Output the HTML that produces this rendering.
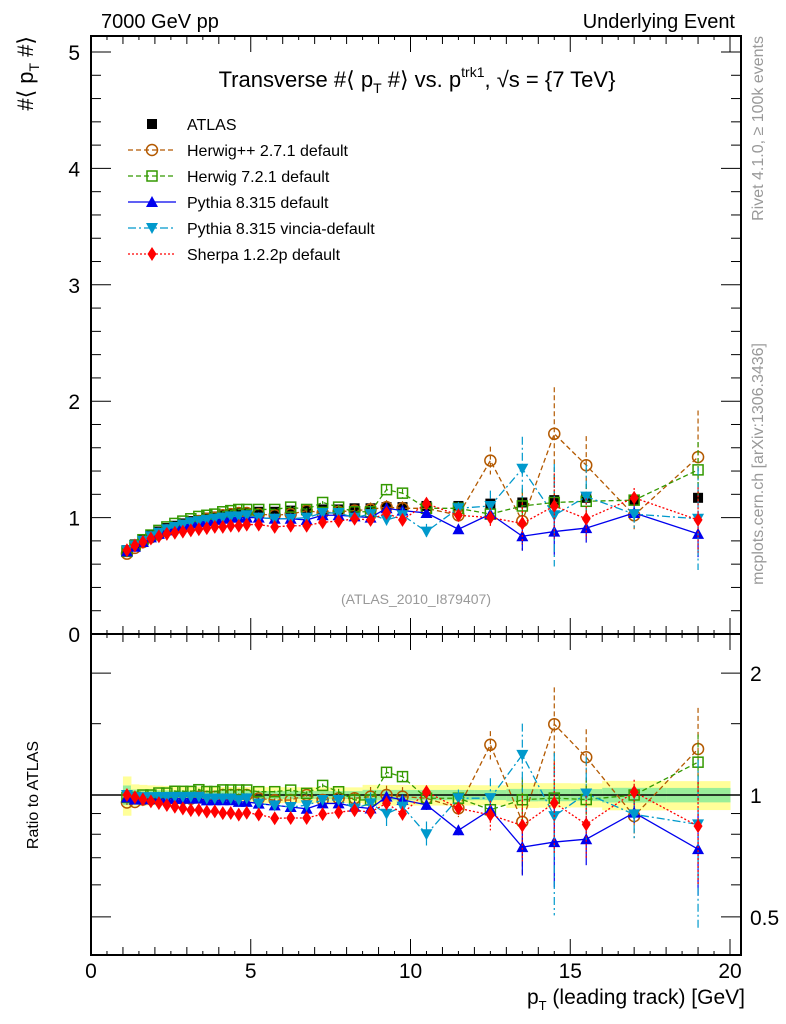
<!DOCTYPE html>
<html><head><meta charset="utf-8"><style>
body{margin:0;background:#fff}
svg{display:block;font-family:"Liberation Sans",sans-serif}
</style></head><body>
<svg id="c" width="786" height="1024" viewBox="0 0 786 1024" xmlns="http://www.w3.org/2000/svg">
<g id="bands"></g>
<g id="marks"></g>
<g id="axes"></g>
<text x="101" y="28" font-size="20">7000 GeV pp</text>
<text x="735" y="28" font-size="20" text-anchor="end">Underlying Event</text>
<text x="417" y="87" font-size="22" text-anchor="middle">Transverse #⟨ p<tspan font-size="14" dy="6">T</tspan><tspan dy="-6"> #⟩ vs. p</tspan><tspan font-size="14" dy="-10">trk1</tspan><tspan dy="10">, √s = {7 TeV}</tspan></text>
<text transform="translate(33,36) rotate(-90)" font-size="22" text-anchor="end">#⟨ p<tspan font-size="14" dy="6">T</tspan><tspan dy="-6">  #⟩</tspan></text>
<text transform="translate(38,795) rotate(-90)" font-size="16" text-anchor="middle">Ratio to ATLAS</text>
<text x="745" y="1004" font-size="21" text-anchor="end">p<tspan font-size="13" dy="6">T</tspan><tspan dy="-6"> (leading track) [GeV]</tspan></text>
<text x="416" y="604" font-size="14" fill="#999" text-anchor="middle">(ATLAS_2010_I879407)</text>
<text transform="translate(763,36) rotate(-90)" font-size="16" fill="#999" text-anchor="end">Rivet 4.1.0, ≥ 100k events</text>
<text transform="translate(763,343) rotate(-90)" font-size="16" fill="#999" text-anchor="end">mcplots.cern.ch [arXiv:1306.3436]</text>
<g id="legend"></g>
</svg>
<script>
const xs=[1.125,1.375,1.625,1.875,2.125,2.375,2.625,2.875,3.125,3.375,3.625,3.875,4.125,4.375,4.625,4.875,5.25,5.75,6.25,6.75,7.25,7.75,8.25,8.75,9.25,9.75,10.5,11.5,12.5,13.5,14.5,15.5,17,19];
const atlas=[0.72,0.77,0.81,0.85,0.88,0.91,0.93,0.95,0.97,0.98,1.0,1.01,1.02,1.03,1.04,1.04,1.05,1.05,1.06,1.06,1.07,1.07,1.08,1.08,1.09,1.09,1.1,1.1,1.12,1.13,1.15,1.17,1.15,1.17];
const atlasErr=[0.05,0.03,0.03,0.03,0.03,0.03,0.03,0.03,0.03,0.03,0.03,0.03,0.03,0.03,0.03,0.03,0.03,0.03,0.03,0.03,0.03,0.03,0.03,0.04,0.04,0.04,0.04,0.04,0.04,0.05,0.05,0.05,0.06,0.06];
const herwigpp=[0.69,0.74,0.79,0.83,0.86,0.89,0.91,0.93,0.95,0.97,0.99,1.0,1.02,1.03,1.04,1.04,1.03,1.02,1.03,1.06,1.04,1.05,1.06,1.07,1.09,1.08,1.08,1.02,1.49,0.97,1.72,1.45,1.02,1.52];
const herwig7=[0.71,0.76,0.81,0.85,0.89,0.92,0.95,0.97,0.99,1.01,1.02,1.03,1.05,1.06,1.07,1.07,1.07,1.07,1.09,1.07,1.13,1.09,1.05,1.05,1.24,1.21,1.08,1.08,1.03,1.1,1.13,1.14,1.15,1.41];
const pythia=[0.71,0.75,0.79,0.83,0.86,0.89,0.91,0.93,0.95,0.96,0.97,0.98,0.99,1.0,1.0,1.0,1.0,0.99,0.99,0.98,1.02,1.02,1.01,1.0,1.08,1.06,1.04,0.9,1.03,0.84,0.88,0.91,1.04,0.86];
const vincia=[0.72,0.76,0.8,0.84,0.87,0.9,0.92,0.94,0.96,0.97,0.98,0.99,1.0,1.01,1.01,1.02,1.0,0.99,0.99,1.0,1.04,1.04,1.0,1.03,0.98,1.02,0.88,1.08,1.1,1.42,1.02,1.18,1.03,0.99];
const sherpa=[0.72,0.76,0.79,0.82,0.84,0.86,0.87,0.88,0.89,0.9,0.91,0.92,0.92,0.93,0.93,0.94,0.94,0.92,0.93,0.93,0.96,0.97,0.99,0.98,1.04,0.98,1.12,1.02,1.0,0.95,1.1,0.99,1.17,0.98];
const mcErr=[0.01,0.01,0.01,0.01,0.01,0.01,0.01,0.01,0.01,0.01,0.01,0.01,0.01,0.01,0.01,0.01,0.01,0.01,0.02,0.02,0.02,0.03,0.03,0.06,0.06,0.06,0.06,0.05,0.12,0.25,0.4,0.25,0.12,0.4];
const seriesNames=["Herwig++ 2.7.1 default","Herwig 7.2.1 default","Pythia 8.315 default","Pythia 8.315 vincia-default","Sherpa 1.2.2p default"];
const yTicks=[0,1,2,3,4,5];
const rTicks=[0.5,1,2];
const xTicks=[0,5,10,15,20];

const NS="http://www.w3.org/2000/svg";
const L=91,R=741,T=36,MB=634,RB=955;
const X=v=>L+v*31.95;
const Y=v=>MB-v*116.4;
const RY=r=>795-405*Math.log10(r);
function el(tag,a,p){const e=document.createElementNS(NS,tag);for(const k in a)e.setAttribute(k,a[k]);p.appendChild(e);return e;}
const bands=document.getElementById('bands'),marks=document.getElementById('marks'),axes=document.getElementById('axes'),leg=document.getElementById('legend');

for(let i=0;i<xs.length;i++){
  const w=i<16?0.125:(i<26?0.25:(i<32?0.5:1));
  const rel=atlasErr[i]/atlas[i];
  const y=el('rect',{x:X(xs[i]-w),y:RY(1+rel*1.6),width:X(xs[i]+w)-X(xs[i]-w)+0.5,height:RY(1-rel*1.6)-RY(1+rel*1.6),fill:'#ffff99'},bands);
  
  
  const g=el('rect',{x:X(xs[i]-w),y:RY(1+rel*0.8),width:X(xs[i]+w)-X(xs[i]-w)+0.5,height:RY(1-rel*0.8)-RY(1+rel*0.8),fill:'#99ee99'},bands);
  
  
}
el('line',{x1:L,x2:R,y1:RY(1),y2:RY(1),stroke:'#000','stroke-width':1.5},bands);

function marker(type,cx,cy,col,p){
  const s=5;
  if(type==='sq') return el('rect',{x:cx-s,y:cy-s,width:2*s,height:2*s,fill:'#000'},p);
  if(type==='circ') return el('circle',{cx,cy,r:s+0.5,fill:'none',stroke:col,'stroke-width':1.5},p);
  if(type==='osq') return el('rect',{x:cx-s,y:cy-s,width:2*s,height:2*s,fill:'none',stroke:col,'stroke-width':1.5},p);
  if(type==='up') return el('polygon',{points:`${cx},${cy-6} ${cx-6},${cy+5} ${cx+6},${cy+5}`,fill:col},p);
  if(type==='down') return el('polygon',{points:`${cx},${cy+6} ${cx-6},${cy-5} ${cx+6},${cy-5}`,fill:col},p);
  if(type==='dia') return el('polygon',{points:`${cx},${cy-7} ${cx-4.5},${cy} ${cx},${cy+7} ${cx+4.5},${cy}`,fill:col},p);
}
// data points first (behind models)
const dg=el('g',{},marks);


xs.forEach((x,i)=>{
  el('line',{x1:X(x),x2:X(x),y1:Y(atlas[i]+atlasErr[i]*0.5),y2:Y(atlas[i]-atlasErr[i]*0.5),stroke:'#000'},dg);
  const m=marker('sq',X(x),Y(atlas[i]),'#000',dg);
  
  
});
const styles=[
 {vals:herwigpp,col:'#b35900',m:'circ',dash:'5,3',ef:1},
 {vals:herwig7,col:'#339900',m:'osq',dash:'5,3',ef:0.6},
 {vals:pythia,col:'#0000ee',m:'up',dash:'',ef:0.5},
 {vals:vincia,col:'#0099cc',m:'down',dash:'8,3,2,3',ef:1.1},
 {vals:sherpa,col:'#ff0000',m:'dia',dash:'2,2',ef:0.7}
];
styles.forEach((s,si)=>{
  const g=el('g',{},marks);
  
  
  const clipMain=v=>Math.max(T,Math.min(MB,v));
  const clipR=v=>Math.max(MB,Math.min(RB,v));
  let pm=[],pr=[];
  xs.forEach((x,i)=>{pm.push(X(x)+','+Y(s.vals[i]));pr.push(X(x)+','+clipR(RY(s.vals[i]/atlas[i])));});
  el('polyline',{points:pm.join(' '),fill:'none',stroke:s.col,'stroke-width':1.3,'stroke-dasharray':s.dash},g);
  el('polyline',{points:pr.join(' '),fill:'none',stroke:s.col,'stroke-width':1.3,'stroke-dasharray':s.dash},g);
  xs.forEach((x,i)=>{
    const e=mcErr[i]*s.ef,v=s.vals[i],r=v/atlas[i];
    el('line',{x1:X(x),x2:X(x),y1:clipMain(Y(v+e)),y2:clipMain(Y(v-e)),stroke:s.col,'stroke-width':1.2,'stroke-dasharray':s.dash},g);
    const rlo=Math.max(r-e/atlas[i],0.01);
    el('line',{x1:X(x),x2:X(x),y1:clipR(RY(r+e/atlas[i])),y2:clipR(RY(rlo)),stroke:s.col,'stroke-width':1.2,'stroke-dasharray':s.dash},g);
    const m1=marker(s.m,X(x),Y(v),s.col,g);
    
    
    const m2=marker(s.m,X(x),clipR(RY(r)),s.col,g);
    
    
  });
});

el('rect',{x:L,y:T,width:R-L,height:MB-T,fill:'none',stroke:'#000','stroke-width':2},axes);
el('rect',{x:L,y:MB,width:R-L,height:RB-MB,fill:'none',stroke:'#000','stroke-width':2},axes);
for(let v=0;v<=20.01;v+=1){
  const big=Math.abs(v%5)<0.01, len=big?16:8;
  [[T,1],[MB,-1],[MB,1],[RB,-1]].forEach(([y0,d])=>el('line',{x1:X(v),x2:X(v),y1:y0,y2:y0+d*len,stroke:'#000'},axes));
}
for(let v=0.5;v<=20;v+=1){
  [[T,1],[MB,-1],[MB,1],[RB,-1]].forEach(([y0,d])=>el('line',{x1:X(v),x2:X(v),y1:y0,y2:y0+d*4,stroke:'#000'},axes));
}
for(let v=0;v<=5.01;v+=0.2){
  const big=Math.abs(v-Math.round(v))<0.01,len=big?20:10;
  el('line',{x1:L,x2:L+len,y1:Y(v),y2:Y(v),stroke:'#000'},axes);
  el('line',{x1:R,x2:R-len,y1:Y(v),y2:Y(v),stroke:'#000'},axes);
}
yTicks.forEach(v=>{const t=el('text',{x:80,y:Y(v)+8,'font-size':21,'text-anchor':'end'},axes);t.textContent=v;

});
[0.5,0.6,0.7,0.8,0.9,1,1.5,2].forEach(v=>{
  const big=rTicks.includes(v),len=big?20:10;
  el('line',{x1:L,x2:L+len,y1:RY(v),y2:RY(v),stroke:'#000'},axes);
  el('line',{x1:R,x2:R-len,y1:RY(v),y2:RY(v),stroke:'#000'},axes);
});
rTicks.forEach(v=>{
  const t2=el('text',{x:750,y:RY(v)+8,'font-size':21},axes);t2.textContent=v;
  
  
});
xTicks.forEach(v=>{const t=el('text',{x:X(v),y:978,'font-size':21,'text-anchor':'middle'},axes);t.textContent=v;

});

const lg0=el('g',{},leg);


marker('sq',152,124,'#000',lg0);
const at=el('text',{x:187,y:130,'font-size':16},lg0);at.textContent='ATLAS';
styles.forEach((s,i)=>{
  const y=150+i*26;
  const g=el('g',{},leg);
  
  
  el('line',{x1:128,x2:176,y1:y,y2:y,stroke:s.col,'stroke-width':1.3,'stroke-dasharray':s.dash},g);
  marker(s.m,152,y,s.col,g);
  const t=el('text',{x:187,y:y+6,'font-size':16},g);t.textContent=seriesNames[i];
});
</script>
</body></html>
